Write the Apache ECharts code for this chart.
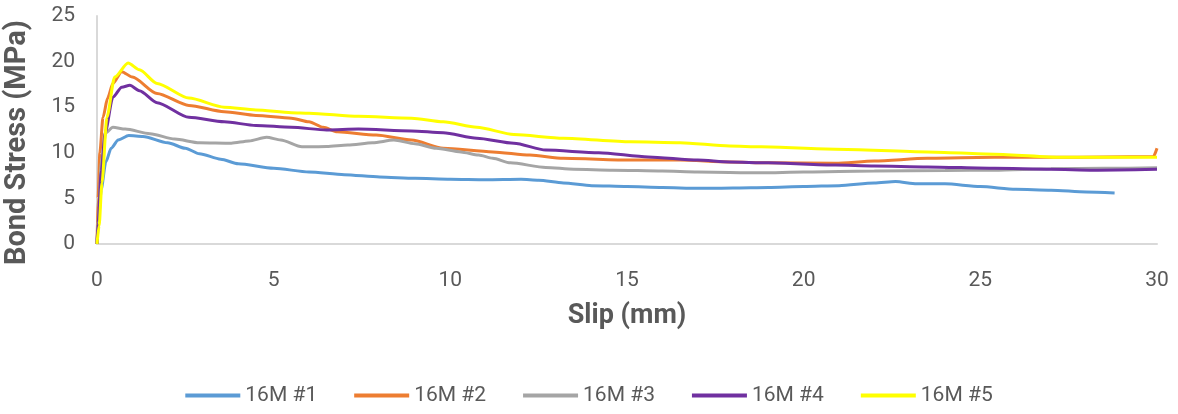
<!DOCTYPE html>
<html>
<head>
<meta charset="utf-8">
<script src="https://cdn.jsdelivr.net/npm/echarts@6/dist/echarts.min.js"></script>
<style>
  html, body { margin: 0; padding: 0; background: #fff; }
  #chart { width: 1178px; height: 414px; }
</style>
</head>
<body>
<div id="chart"></div>
<script>
// Bond stress (MPa) versus slip (mm) for five 16M specimens: [slip, stress]
const seriesNames = ['16M #1', '16M #2', '16M #3', '16M #4', '16M #5'];

const spec1 = [[0,0],[0.05,3],[0.12,6],[0.25,9],[0.4,10.5],[0.6,11.4],[0.9,11.9],[1.3,11.8],[2,11.1],[2.5,10.5],[2.9,9.9],[3.5,9.3],[4,8.8],[5,8.3],[6,7.9],[7,7.6],[8,7.35],[9,7.2],[10,7.1],[11,7.05],[12,7.1],[12.5,7.0],[13.2,6.7],[14,6.4],[15,6.3],[16,6.2],[17,6.1],[18,6.15],[19,6.2],[20,6.3],[21,6.4],[22,6.7],[22.6,6.85],[23.2,6.6],[24,6.6],[25,6.3],[26,6.0],[27,5.9],[28,5.7],[28.8,5.6]];

const spec2 = [[0,0],[0.03,5],[0.08,10],[0.17,13.9],[0.3,16],[0.45,17.6],[0.7,18.9],[1.0,18.3],[1.7,16.5],[2.6,15.2],[3.6,14.5],[4.5,14.1],[5.5,13.8],[6.0,13.4],[6.4,12.8],[6.8,12.3],[7.9,11.95],[8.9,11.4],[9.8,10.5],[11.2,10.1],[12.25,9.75],[13.2,9.4],[15.1,9.2],[16.5,9.2],[17.9,9.0],[19,8.9],[20.9,8.85],[22,9.1],[23.5,9.4],[25.4,9.5],[27,9.5],[28.5,9.55],[29.9,9.6],[30,10.5]];

const spec3 = [[0,0],[0.05,4],[0.12,9],[0.25,12.2],[0.45,12.8],[0.8,12.6],[1.5,12.1],[2.2,11.5],[2.9,11.1],[3.8,11.05],[4.3,11.3],[4.8,11.7],[5.2,11.4],[5.8,10.65],[6.5,10.7],[7.1,10.85],[7.8,11.1],[8.4,11.4],[9.0,11.0],[9.6,10.5],[10.3,10.1],[10.8,9.75],[11.2,9.4],[11.7,8.9],[12.7,8.4],[13.5,8.2],[14.6,8.1],[16,8.0],[17,7.9],[18.8,7.8],[20,7.9],[22,8.0],[24,8.05],[25.4,8.1],[27,8.25],[28.5,8.3],[30,8.35]];

const spec4 = [[0,0],[0.03,2.3],[0.12,8],[0.23,12.2],[0.45,16.1],[0.7,17.2],[0.93,17.4],[1.2,16.8],[1.7,15.5],[2.6,13.9],[3.6,13.4],[4.5,13.0],[5.5,12.8],[6.5,12.5],[7.4,12.6],[8.9,12.4],[9.8,12.2],[10.75,11.6],[11.8,11.05],[12.7,10.3],[14.2,10.0],[15.6,9.55],[17.0,9.2],[17.9,9.0],[19,8.9],[20.9,8.65],[22,8.55],[23.5,8.45],[25.4,8.3],[27,8.2],[28.2,8.1],[30,8.2]];

const spec5 = [[0,0],[0.06,2],[0.14,6.7],[0.28,13.9],[0.5,18.3],[0.88,19.85],[1.2,19.1],[1.7,17.6],[2.6,16.0],[3.6,15.0],[4.5,14.7],[5.5,14.4],[6.0,14.35],[7.4,14.0],[8.9,13.8],[9.8,13.4],[10.75,12.8],[11.8,12.0],[13.2,11.6],[15.1,11.2],[16.5,11.1],[17.9,10.75],[18.8,10.65],[20.9,10.4],[23.5,10.1],[25.4,9.85],[27.3,9.5],[30,9.5]];

const seriesData = [spec1, spec2, spec3, spec4, spec5];
const seriesColors = ['#5B9BD5', '#ED7D31', '#A5A5A5', '#7030A0', '#FFFF00'];

const FONT = "'Roboto', 'Liberation Sans', sans-serif";
const TEXT = '#595959';

const chart = echarts.init(document.getElementById('chart'), null, { renderer: 'canvas' });

chart.setOption({
  backgroundColor: '#ffffff',
  animation: false,
  grid: { left: 97, right: 21, top: 16, bottom: 170, containLabel: false },
  legend: {
    top: 380,
    left: 'center',
    icon: 'rect',
    itemWidth: 55,
    itemHeight: 4,
    itemGap: 37,
    textStyle: { fontFamily: FONT, fontSize: 21, color: TEXT },
    data: seriesNames
  },
  xAxis: {
    type: 'value',
    min: 0, max: 30, interval: 5,
    name: 'Slip (mm)',
    nameLocation: 'middle',
    nameGap: 59,
    nameTextStyle: { fontFamily: FONT, fontSize: 27, fontWeight: 'bold', color: TEXT },
    axisLine: { show: true, lineStyle: { color: '#D9D9D9', width: 2 } },
    axisTick: { show: false },
    splitLine: { show: false },
    axisLabel: { fontFamily: FONT, fontSize: 21, color: TEXT, margin: 26 }
  },
  yAxis: {
    type: 'value',
    min: 0, max: 25, interval: 5,
    axisLine: { show: true, lineStyle: { color: '#D9D9D9', width: 2 } },
    axisTick: { show: false },
    splitLine: { show: false },
    axisLabel: { fontFamily: FONT, fontSize: 21, color: TEXT, margin: 22 }
  },
  graphic: [{
    type: 'text',
    left: 3,
    top: 20,
    rotation: Math.PI / 2,
    style: {
      text: 'Bond Stress (MPa)',
      fontFamily: FONT,
      fontSize: 29,
      fontWeight: 'bold',
      fill: TEXT
    }
  }],
  series: seriesNames.map((name, i) => ({
    name,
    type: 'line',
    data: seriesData[i],
    showSymbol: false,
    smooth: 0.25,
    smoothMonotone: 'x',
    color: seriesColors[i],
    lineStyle: { width: 3, color: seriesColors[i] },
    z: 2 + i
  }))
});
</script>
</body>
</html>
